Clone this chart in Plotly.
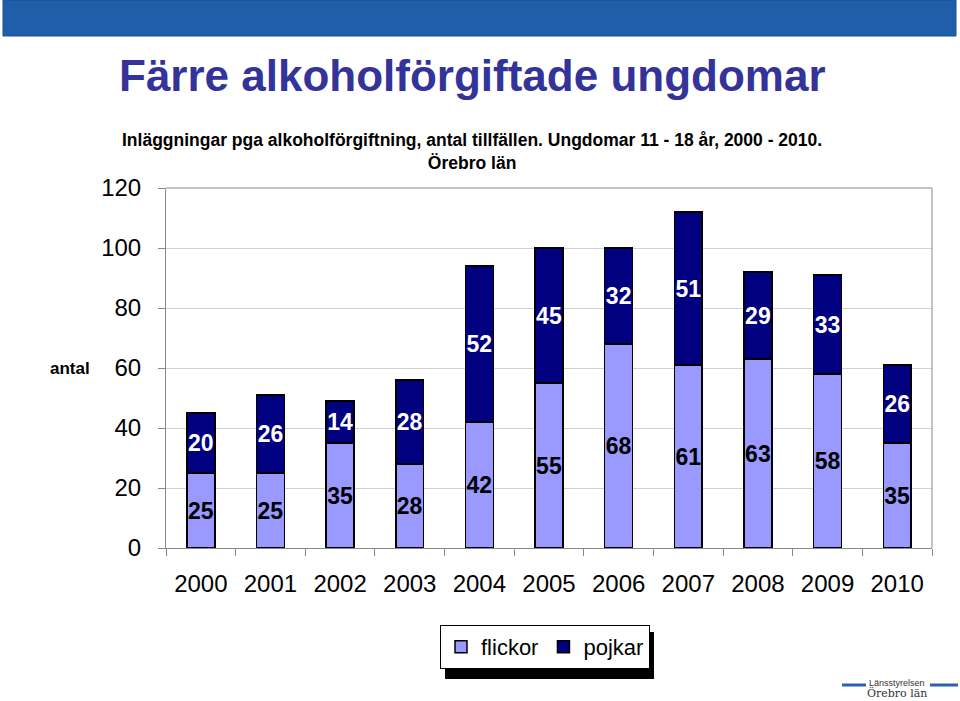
import plotly.graph_objects as go

years = ["2000", "2001", "2002", "2003", "2004", "2005", "2006", "2007", "2008", "2009", "2010"]
flickor = [25, 25, 35, 28, 42, 55, 68, 61, 63, 58, 35]
pojkar = [20, 26, 14, 28, 52, 45, 32, 51, 29, 33, 26]
y_ticks = [0, 20, 40, 60, 80, 100, 120]

W, H = 960, 701
L, R, T, B = 166, 28, 188, 153
PW, PH = W - L - R, H - T - B

def px(x):
    return (x - L) / PW

def py(y):
    return (H - B - y) / PH

FONT = "Liberation Sans, Arial, sans-serif"

fig = go.Figure()
fig.add_trace(go.Bar(
    x=years, y=flickor, name="flickor",
    marker=dict(color="#9999FF", line=dict(color="black", width=1.5)),
    text=flickor, textposition="inside", insidetextanchor="middle",
    constraintext="none", textangle=0,
    textfont=dict(family=FONT, size=23, color="black", weight="bold"),
))
fig.add_trace(go.Bar(
    x=years, y=pojkar, name="pojkar",
    marker=dict(color="#000080", line=dict(color="black", width=1.5)),
    text=pojkar, textposition="inside", insidetextanchor="middle",
    constraintext="none", textangle=0,
    textfont=dict(family=FONT, size=23, color="white", weight="bold"),
))

fig.update_layout(
    barmode="stack",
    bargap=0.6,
    width=W, height=H,
    margin=dict(l=L, r=R, t=T, b=B, pad=0),
    paper_bgcolor="white", plot_bgcolor="white",
    font=dict(family=FONT, color="black"),
    showlegend=True,
    legend=dict(
        orientation="h", x=px(440), y=py(625), xanchor="left", yanchor="top",
        font=dict(family=FONT, size=22, color="black"),
        bgcolor="white", bordercolor="black", borderwidth=1,
        itemwidth=30, traceorder="normal", tracegroupgap=0,
    ),
    xaxis=dict(
        type="category", tickson="boundaries", ticks="outside", ticklen=7,
        tickcolor="#888888", showline=True, linecolor="#888888", linewidth=1,
        tickfont=dict(family=FONT, size=24, color="black"),
        ticklabelstandoff=14, showgrid=False, mirror=False,
    ),
    yaxis=dict(
        range=[0, 120], tickvals=y_ticks, ticks="outside", ticklen=7,
        tickcolor="#888888", showline=True, linecolor="#888888", linewidth=1,
        gridcolor="#D0D0D0", gridwidth=1,
        tickfont=dict(family=FONT, size=24, color="black"),
        ticklabelstandoff=12, zeroline=False,
    ),
)

shapes = [
    # top banner
    dict(type="rect", xref="paper", yref="paper", x0=px(3), x1=px(956), y0=py(36), y1=py(0),
         fillcolor="#1F5FAA", line=dict(color="#1A4F90", width=1), layer="below"),
    # plot frame top and right
    dict(type="line", xref="paper", yref="paper", x0=0, x1=1, y0=1, y1=1,
         line=dict(color="#888888", width=1)),
    dict(type="line", xref="paper", yref="paper", x0=1, x1=1, y0=0, y1=1,
         line=dict(color="#888888", width=1)),
    # legend shadow
    dict(type="rect", xref="paper", yref="paper", x0=px(445), x1=px(654), y0=py(679), y1=py(632),
         fillcolor="black", line=dict(width=0), layer="below"),
    # logo lines
    dict(type="line", xref="paper", yref="paper", x0=px(842), x1=px(866), y0=py(685), y1=py(685),
         line=dict(color="#2A62B0", width=3)),
    dict(type="line", xref="paper", yref="paper", x0=px(930), x1=px(958), y0=py(685), y1=py(685),
         line=dict(color="#2A62B0", width=3)),
]
fig.update_layout(shapes=shapes)

annotations = [
    dict(text="<b>Färre alkoholförgiftade ungdomar</b>", x=px(117), y=py(75), xref="paper", yref="paper",
         xanchor="left", yanchor="middle", showarrow=False,
         font=dict(family=FONT, size=44, color="#33339A")),
    dict(text="<b>Inläggningar pga alkoholförgiftning, antal tillfällen. Ungdomar 11 - 18 år, 2000 - 2010.</b><br><b>Örebro län</b>",
         x=px(472), y=py(152), xref="paper", yref="paper", xanchor="center", yanchor="middle",
         showarrow=False, align="center",
         font=dict(family=FONT, size=17.5, color="black")),
    dict(text="<b>antal</b>", x=px(70), y=py(368), xref="paper", yref="paper",
         xanchor="center", yanchor="middle", showarrow=False,
         font=dict(family=FONT, size=17, color="black")),
    dict(text="Länsstyrelsen", x=px(897), y=py(683), xref="paper", yref="paper",
         xanchor="center", yanchor="middle", showarrow=False,
         font=dict(family=FONT, size=9, color="#333333")),
    dict(text="Örebro län", x=px(897), y=py(693), xref="paper", yref="paper",
         xanchor="center", yanchor="middle", showarrow=False,
         font=dict(family="DejaVu Serif, serif", size=11, color="#333333")),
]
fig.update_layout(annotations=annotations)

fig.write_html("out.html", config={"displayModeBar": False},
               post_script="document.body.style.margin='0';document.body.style.overflow='hidden';")
